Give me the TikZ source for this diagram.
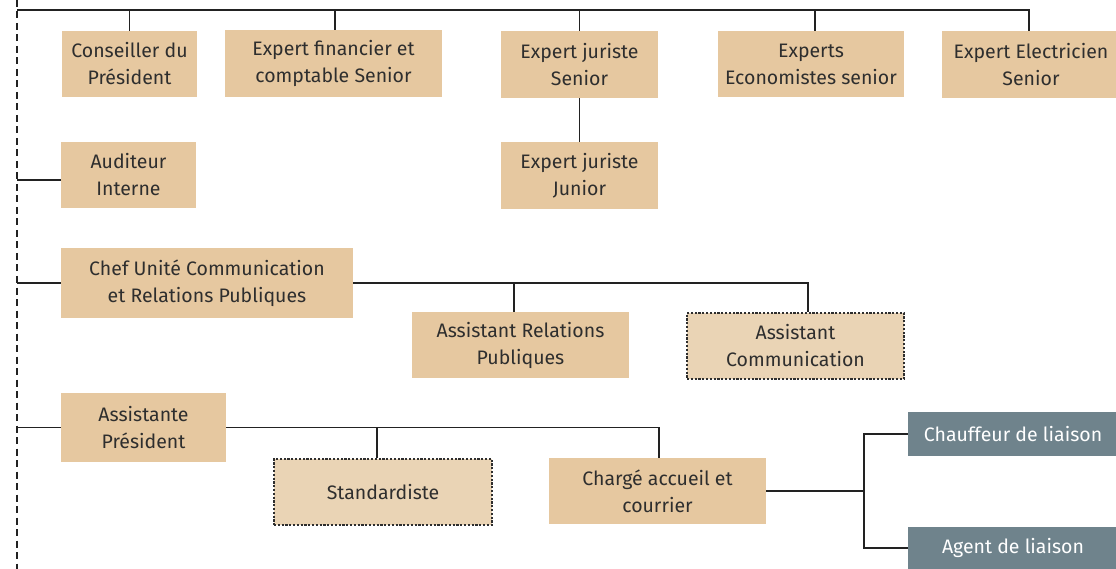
\documentclass[tikz,border=0pt]{standalone}
\usepackage{fontspec}
\setmainfont{Fira Sans}
\definecolor{tan}{HTML}{E6C8A0}
\definecolor{tanlight}{HTML}{EAD4B5}
\definecolor{slate}{HTML}{6F838C}
\definecolor{ink}{HTML}{2E2E2E}
\definecolor{wirecol}{HTML}{222222}
\begin{document}
\begin{tikzpicture}[x=1pt,y=-1pt,
  post/.style={rectangle, fill=tan, text=ink, align=center, inner sep=0pt,
    font=\fontsize{19.5}{27}\selectfont},
  sz/.style 2 args={minimum width=#1pt, minimum height=#2pt},
  vacant/.style={post, fill=tanlight, draw=ink, line width=1.1pt,
    dash pattern=on 2.2pt off 1.6pt},
  liaison/.style={post, fill=slate, text=white},
  wire/.style={draw=wirecol, line width=1.8pt},
  thinwire/.style={draw=wirecol, line width=1.4pt},
  spine/.style={draw=wirecol, line width=1.8pt, dash pattern=on 7pt off 4.5pt}]
\useasboundingbox (0,0) rectangle (1116,569);

% hierarchy spine and anchor points
\coordinate (spineTop) at (17,0);
\coordinate (spineBot) at (17,569);
\coordinate (bar) at (17,10);
\coordinate (hub) at (864,491);

% top row of experts
\node[post, sz={135}{66}] (cons) at (129.5,64) {Conseiller du\\Président};
\node[post, sz={217}{67}] (fin) at (333.5,63.5) {Expert financier et\\comptable Senior};
\node[post, sz={157}{67}] (jurS) at (579.5,64.5) {Expert juriste\\Senior};
\node[post, sz={186}{66}] (eco) at (811,64) {Experts\\Economistes senior};
\node[post, sz={178}{67}] (elec) at (1031,64.5) {Expert Electricien\\Senior};
\node[post, sz={157}{67}] (jurJ) at (579.5,175.5) {Expert juriste\\Junior};

% audit
\node[post, sz={135}{66}] (aud) at (128.5,175) {Auditeur\\Interne};

% communication unit
\node[post, sz={292}{70}] (chef) at (207,283) {Chef Unité Communication\\et Relations Publiques};
\node[post, sz={217}{66}] (arp) at (520.5,345) {Assistant Relations\\Publiques};
\node[vacant, sz={217}{66}] (acom) at (795.5,346) {Assistant\\Communication};

% secretariat
\node[post, sz={165}{69}] (asst) at (143.5,427.5) {Assistante\\Président};
\node[vacant, sz={218}{66}] (std) at (383,492) {Standardiste};
\node[post, sz={217}{66}] (chg) at (657.5,491) {Chargé accueil et\\courrier};
\node[liaison, sz={210}{44}] (chauf) at (1013,434) {Chauffeur de liaison};
\node[liaison, sz={210}{42}] (agent) at (1013,548) {Agent de liaison};

% connectors
\draw[spine] (spineTop) -- (spineBot);
\draw[thinwire] (bar) -| ([xshift=-2pt]elec.north);
\foreach \n/\dx in {cons/0,fin/1.5,jurS/0,eco/4}
  \draw[thinwire] ([xshift=\dx pt]\n.north) -- ([xshift=\dx pt]\n.north |- bar);
\draw[wire] (jurS.south) -- (jurJ.north);
\draw[wire] ([yshift=-5pt]aud.west) -- ([yshift=-5pt]aud.west -| bar);

\draw[wire] (chef.west) -- (chef.west -| bar);
\draw[wire] (chef.east) -| ([xshift=12.5pt]acom.north);
\draw[wire] ([xshift=-6.5pt]arp.north) -- ([xshift=-6.5pt]arp.north |- chef.east);

\draw[wire] (asst.west) -- (asst.west -| bar);
\draw[wire] (asst.east) -| ([xshift=1.5pt]chg.north);
\draw[wire] ([xshift=-6pt]std.north) -- ([xshift=-6pt]std.north |- asst.east);
\draw[wire] (chg.east) -- (hub);
\draw[wire] (chauf.west) -| (hub) |- (agent.west);
\end{tikzpicture}
\end{document}
